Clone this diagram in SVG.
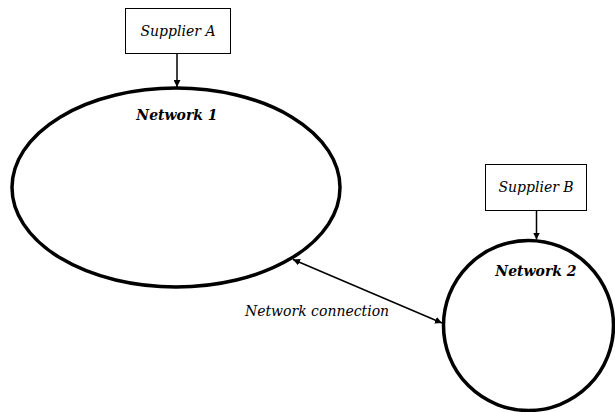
<svg xmlns="http://www.w3.org/2000/svg" width="615" height="412" viewBox="0 0 615 412">
<style>
.box{fill:#fff;stroke:#000;stroke-width:1}
.net{fill:#fff;stroke:#000;stroke-width:3.5}
.lbl{font-family:"DejaVu Serif","Liberation Serif",serif;font-style:italic;font-size:14px;fill:#000}
.nlbl{font-family:"DejaVu Serif","Liberation Serif",serif;font-style:italic;font-weight:bold;font-size:14px;fill:#000}
.con{stroke:#000;stroke-width:1.5;fill:none}
</style>
<defs>
<marker id="ah" viewBox="0 0 10 10" refX="10" refY="5" markerWidth="7" markerHeight="7" orient="auto-start-reverse" markerUnits="userSpaceOnUse">
<path d="M0,0 L10,5 L0,10 z" fill="#000"/>
</marker>
</defs>
<g id="network1">
<ellipse class="net" cx="176" cy="187.5" rx="164" ry="99.5"/>
<text class="nlbl" x="177" y="120" text-anchor="middle">Network 1</text>
</g>
<g id="network2">
<ellipse class="net" cx="528.5" cy="325.5" rx="85" ry="85"/>
<text class="nlbl" x="536" y="276" text-anchor="middle">Network 2</text>
</g>
<g id="supplierA">
<rect class="box" x="125.5" y="8.5" width="105" height="45"/>
<text class="lbl" x="178" y="36" text-anchor="middle">Supplier A</text>
</g>
<g id="supplierB">
<rect class="box" x="485.5" y="164.5" width="101" height="46"/>
<text class="lbl" x="536" y="192" text-anchor="middle">Supplier B</text>
</g>
<g id="connectionLabel">
<text class="lbl" x="317" y="316" text-anchor="middle">Network connection</text>
</g>
<g id="connectors">
<line class="con" x1="177" y1="54" x2="177" y2="87" marker-end="url(#ah)"/>
<line class="con" x1="536.5" y1="211" x2="536.5" y2="239.5" marker-end="url(#ah)"/>
<line class="con" x1="293" y1="259.5" x2="442" y2="323" marker-start="url(#ah)" marker-end="url(#ah)"/>
</g>
</svg>
